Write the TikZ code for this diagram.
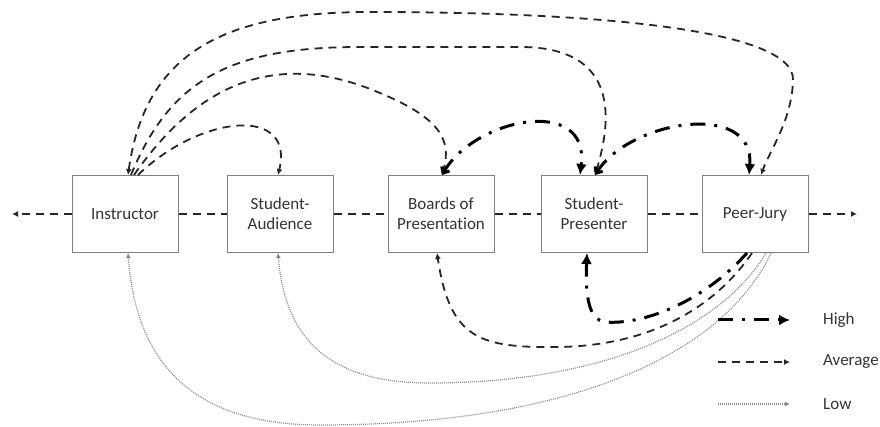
\documentclass[tikz,border=0pt]{standalone}
\usepackage{fontspec}
\setmainfont{Carlito}[Ligatures=NoCommon]
\usetikzlibrary{positioning,arrows.meta}

\begin{document}
\begin{tikzpicture}[x=1pt, y=-1pt]
        \tikzstyle{box} = [draw=black!50, line width=1pt, fill=white, rectangle, minimum height=77pt, minimum width=106pt, align=center, text=black!80, font=\fontsize{17}{20}\selectfont];
        \tikzstyle{legtext} = [anchor=west, inner sep=0pt, text=black!80, font=\fontsize{17}{20}\selectfont];
        \tikzstyle{high} = [line width=3pt, black, dash pattern=on 15pt off 9pt on 3pt off 9pt, -{Latex[length=11pt,width=11pt]}];
        \tikzstyle{avg} = [line width=1.8pt, black!85, dash pattern=on 8pt off 6pt, -{Latex[length=6pt,width=6pt]}];
        \tikzstyle{low} = [line width=1.2pt, black!45, dash pattern=on 1pt off 1pt, -{Latex[length=5pt,width=5pt]}];

        \useasboundingbox (0,0) rectangle (880,427);

        \node(instr)[box] at (125,214){Instructor};
        \node(aud)[box, right=48pt of instr]{Student-\\Audience};
        \node(boards)[box, right=54pt of aud]{Boards of\\Presentation};
        \node(pres)[box, right=46pt of boards]{Student-\\Presenter};
        \node(jury)[box, right=54pt of pres]{Peer-Jury};

        \coordinate(leftend) at (12,214);
        \coordinate(rightend) at (857,214);
        \draw [avg] (instr.west) -- (leftend);
        \draw [avg, -] (instr) -- (aud);
        \draw [avg, -] (aud) -- (boards);
        \draw [avg, -] (boards) -- (pres);
        \draw [avg, -] (pres) -- (jury);
        \draw [avg] (jury.east) -- (rightend);

        \draw [avg, {Latex[length=6pt,width=6pt]}-{Latex[length=6pt,width=6pt]}] ([xshift=3pt]instr.north) .. controls (145,55) and (220,12) .. (370,12) .. controls (600,12) and (795,30) .. (793,80) .. controls (792,120) and (770,150) .. ([xshift=6pt]jury.north);
        \draw [avg] ([xshift=6pt]instr.north) .. controls (170,80) and (230,47) .. (360,47) -- (520,47) .. controls (605,47) and (618,100) .. ([xshift=1pt]pres.north);
        \draw [avg] ([xshift=9pt]instr.north) .. controls (200,80) and (280,50) .. (380,93) .. controls (440,118) and (452,140) .. ([xshift=1pt]boards.north);
        \draw [avg] ([xshift=13pt]instr.north) .. controls (200,115) and (295,105) .. ([xshift=-2pt]aud.north);

        \draw [high, {Straight Barb[length=5pt,width=9pt]}-{Latex[length=11pt,width=11pt]}] ([xshift=1pt]boards.north) .. controls (475,118) and (590,95) .. ([xshift=-14pt]pres.north);
        \draw [high, {Straight Barb[length=5pt,width=9pt]}-{Latex[length=11pt,width=11pt]}] ([xshift=1pt]pres.north) .. controls (630,120) and (755,100) .. ([xshift=-6pt]jury.north);

        \draw [avg] ([xshift=-3pt]jury.south) .. controls (720,300) and (660,345) .. (560,347) .. controls (480,348) and (450,340) .. ([xshift=-4pt]boards.south);
        \draw [high] ([xshift=-8pt]jury.south) .. controls (700,305) and (640,325) .. (605,322) .. controls (590,320) and (585,300) .. ([xshift=-7pt]pres.south);
        \draw [low] ([xshift=11pt]jury.south) .. controls (720,330) and (600,383) .. (430,383) .. controls (330,383) and (285,340) .. ([xshift=-2pt]aud.south);
        \draw [low] ([xshift=16pt]jury.south) .. controls (720,360) and (560,425) .. (320,425) .. controls (180,425) and (135,350) .. ([xshift=3pt]instr.south);

        \node(hightxt)[legtext] at (823,320){High};
        \node(avgtxt)[legtext] at (823,362){Average};
        \node(lowtxt)[legtext] at (823,404){Low};
        \coordinate(hiA) at (718,320);
        \coordinate(avA) at (718,362);
        \coordinate(loA) at (718,404);
        \draw [high] (hiA) -- ([xshift=-33pt]hightxt.west);
        \draw [avg] (avA) -- ([xshift=-33pt]avgtxt.west);
        \draw [low] (loA) -- ([xshift=-33pt]lowtxt.west);
\end{tikzpicture}
\end{document}
